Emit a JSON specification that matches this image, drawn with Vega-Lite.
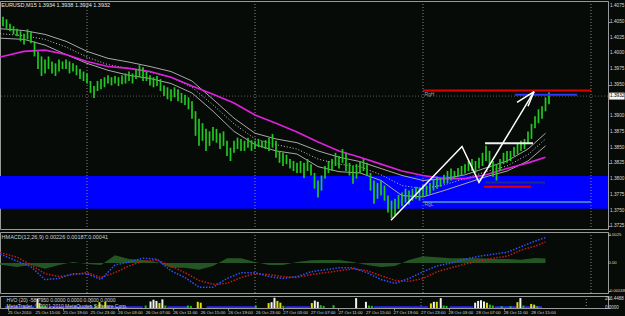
{
  "$schema": "https://vega.github.io/schema/vega-lite/v6.json",
  "background": "#070b07",
  "padding": {"left": -4, "top": 0, "right": 0, "bottom": 0},
  "spacing": 1,
  "resolve": {"scale": {"color": "independent"}},
  "config": {
    "view": {"stroke": "#9a9a9a", "strokeWidth": 1},
    "axis": {"labels": false, "domainColor": "#9a9a9a", "tickColor": "#9a9a9a", "tickSize": 2, "grid": false, "title": null},
    "text": {"font": "Liberation Sans"}
  },
  "datasets": {
    "candles": [
      {"t":0,"h":1.4058,"l":1.4043},{"t":0.5,"h":1.4054,"l":1.4039},{"t":1,"h":1.4047,"l":1.4035},{"t":1.5,"h":1.4043,"l":1.4030},{"t":2,"h":1.4039,"l":1.4027},{"t":2.5,"h":1.4035,"l":1.4019},{"t":3,"h":1.4031,"l":1.4014},{"t":3.5,"h":1.4038,"l":1.4022},{"t":4,"h":1.4035,"l":1.4016},{"t":4.5,"h":1.4019,"l":1.3995},
      {"t":5,"h":1.4003,"l":1.3975},{"t":5.5,"h":1.3995,"l":1.3964},{"t":6,"h":1.3990,"l":1.3968},{"t":6.5,"h":1.3995,"l":1.3975},{"t":7,"h":1.3987,"l":1.3968},{"t":7.5,"h":1.3984,"l":1.3964},{"t":8,"h":1.3990,"l":1.3971},{"t":8.5,"h":1.3987,"l":1.3975},{"t":9,"h":1.3990,"l":1.3975},{"t":9.5,"h":1.3987,"l":1.3968},
      {"t":10,"h":1.3984,"l":1.3971},{"t":10.5,"h":1.3981,"l":1.3965},{"t":11,"h":1.3975,"l":1.3959},{"t":11.5,"h":1.3971,"l":1.3956},{"t":12,"h":1.3968,"l":1.3952},{"t":12.5,"h":1.3956,"l":1.3937},{"t":13,"h":1.3948,"l":1.3929},{"t":13.5,"h":1.3956,"l":1.3940},{"t":14,"h":1.3959,"l":1.3943},{"t":14.5,"h":1.3962,"l":1.3946},
      {"t":15,"h":1.3965,"l":1.3952},{"t":15.5,"h":1.3962,"l":1.3949},{"t":16,"h":1.3964,"l":1.3952},{"t":16.5,"h":1.3962,"l":1.3948},{"t":17,"h":1.3965,"l":1.3951},{"t":17.5,"h":1.3968,"l":1.3952},{"t":18,"h":1.3971,"l":1.3956},{"t":18.5,"h":1.3968,"l":1.3952},{"t":19,"h":1.3975,"l":1.3959},{"t":19.5,"h":1.3981,"l":1.3962},
      {"t":20,"h":1.3978,"l":1.3956},{"t":20.5,"h":1.3971,"l":1.3956},{"t":21,"h":1.3965,"l":1.3949},{"t":21.5,"h":1.3962,"l":1.3946},{"t":22,"h":1.3964,"l":1.3948},{"t":22.5,"h":1.3959,"l":1.3940},{"t":23,"h":1.3949,"l":1.3932},{"t":23.5,"h":1.3946,"l":1.3927},{"t":24,"h":1.3943,"l":1.3924},{"t":24.5,"h":1.3946,"l":1.3930},
      {"t":25,"h":1.3943,"l":1.3924},{"t":25.5,"h":1.3937,"l":1.3921},{"t":26,"h":1.3934,"l":1.3918},{"t":26.5,"h":1.3930,"l":1.3911},{"t":27,"h":1.3924,"l":1.3896},{"t":27.5,"h":1.3908,"l":1.3869},{"t":28,"h":1.3896,"l":1.3853},{"t":28.5,"h":1.3889,"l":1.3861},{"t":29,"h":1.3880,"l":1.3845},{"t":29.5,"h":1.3876,"l":1.3853},
      {"t":30,"h":1.3883,"l":1.3861},{"t":30.5,"h":1.3880,"l":1.3858},{"t":31,"h":1.3873,"l":1.3848},{"t":31.5,"h":1.3876,"l":1.3853},{"t":32,"h":1.3861,"l":1.3837},{"t":32.5,"h":1.3850,"l":1.3829},{"t":33,"h":1.3861,"l":1.3842},{"t":33.5,"h":1.3866,"l":1.3848},{"t":34,"h":1.3864,"l":1.3845},{"t":34.5,"h":1.3861,"l":1.3845},
      {"t":35,"h":1.3866,"l":1.3850},{"t":35.5,"h":1.3862,"l":1.3845},{"t":36,"h":1.3861,"l":1.3848},{"t":36.5,"h":1.3864,"l":1.3851},{"t":37,"h":1.3861,"l":1.3850},{"t":37.5,"h":1.3862,"l":1.3848},{"t":38,"h":1.3866,"l":1.3845},{"t":38.5,"h":1.3872,"l":1.3850},{"t":39,"h":1.3861,"l":1.3834},{"t":39.5,"h":1.3845,"l":1.3826},
      {"t":40,"h":1.3842,"l":1.3821},{"t":40.5,"h":1.3839,"l":1.3824},{"t":41,"h":1.3832,"l":1.3817},{"t":41.5,"h":1.3829,"l":1.3813},{"t":42,"h":1.3826,"l":1.3810},{"t":42.5,"h":1.3829,"l":1.3810},{"t":43,"h":1.3826,"l":1.3802},{"t":43.5,"h":1.3832,"l":1.3813},{"t":44,"h":1.3824,"l":1.3806},{"t":44.5,"h":1.3810,"l":1.3785},
      {"t":45,"h":1.3798,"l":1.3771},{"t":45.5,"h":1.3806,"l":1.3782},{"t":46,"h":1.3821,"l":1.3801},{"t":46.5,"h":1.3829,"l":1.3810},{"t":47,"h":1.3832,"l":1.3813},{"t":47.5,"h":1.3842,"l":1.3821},{"t":48,"h":1.3837,"l":1.3817},{"t":48.5,"h":1.3848,"l":1.3826},{"t":49,"h":1.3842,"l":1.3813},{"t":49.5,"h":1.3826,"l":1.3806},
      {"t":50,"h":1.3821,"l":1.3793},{"t":50.5,"h":1.3824,"l":1.3801},{"t":51,"h":1.3829,"l":1.3810},{"t":51.5,"h":1.3832,"l":1.3813},{"t":52,"h":1.3826,"l":1.3806},{"t":52.5,"h":1.3810,"l":1.3782},{"t":53,"h":1.3798,"l":1.3761},{"t":53.5,"h":1.3794,"l":1.3769},{"t":54,"h":1.3798,"l":1.3774},{"t":54.5,"h":1.3790,"l":1.3766},
      {"t":55,"h":1.3774,"l":1.3747},{"t":55.5,"h":1.3766,"l":1.3738},{"t":56,"h":1.3769,"l":1.3742},{"t":56.5,"h":1.3775,"l":1.3753},{"t":57,"h":1.3779,"l":1.3757},{"t":57.5,"h":1.3785,"l":1.3763},{"t":58,"h":1.3782,"l":1.3760},{"t":58.5,"h":1.3785,"l":1.3766},{"t":59,"h":1.3788,"l":1.3769},{"t":59.5,"h":1.3787,"l":1.3766},
      {"t":60,"h":1.3791,"l":1.3772},{"t":60.5,"h":1.3790,"l":1.3774},{"t":61,"h":1.3794,"l":1.3777},{"t":61.5,"h":1.3801,"l":1.3782},{"t":62,"h":1.3804,"l":1.3785},{"t":62.5,"h":1.3802,"l":1.3788},{"t":63,"h":1.3807,"l":1.3793},{"t":63.5,"h":1.3813,"l":1.3794},{"t":64,"h":1.3817,"l":1.3798},{"t":64.5,"h":1.3813,"l":1.3801},
      {"t":65,"h":1.3818,"l":1.3804},{"t":65.5,"h":1.3821,"l":1.3806},{"t":66,"h":1.3824,"l":1.3809},{"t":66.5,"h":1.3829,"l":1.3813},{"t":67,"h":1.3832,"l":1.3813},{"t":67.5,"h":1.3829,"l":1.3810},{"t":68,"h":1.3834,"l":1.3817},{"t":68.5,"h":1.3842,"l":1.3821},{"t":69,"h":1.3853,"l":1.3829},{"t":69.5,"h":1.3845,"l":1.3818},
      {"t":70,"h":1.3829,"l":1.3804},{"t":70.5,"h":1.3824,"l":1.3798},{"t":71,"h":1.3832,"l":1.3813},{"t":71.5,"h":1.3842,"l":1.3824},{"t":72,"h":1.3845,"l":1.3826},{"t":72.5,"h":1.3845,"l":1.3829},{"t":73,"h":1.3851,"l":1.3837},{"t":73.5,"h":1.3858,"l":1.3840},{"t":74,"h":1.3861,"l":1.3845},{"t":74.5,"h":1.3864,"l":1.3848},
      {"t":75,"h":1.3876,"l":1.3856},{"t":75.5,"h":1.3888,"l":1.3864},{"t":76,"h":1.3900,"l":1.3881},{"t":76.5,"h":1.3911,"l":1.3889},{"t":77,"h":1.3916,"l":1.3896},{"t":77.5,"h":1.3930,"l":1.3908},{"t":78,"h":1.3938,"l":1.3919}
    ],
    "ma": [
      {"t":-0.4,"mg":1.3994,"u":1.4039,"m":1.4031,"l":1.4024},
      {"t":3,"mg":1.4003,"u":1.4036,"m":1.4028,"l":1.4022},
      {"t":6,"mg":1.4005,"u":1.4030,"m":1.4022,"l":1.4013},
      {"t":9,"mg":1.3998,"u":1.4019,"m":1.4010,"l":1.3998},
      {"t":12,"mg":1.3987,"u":1.4003,"m":1.3994,"l":1.3984},
      {"t":15,"mg":1.3979,"u":1.3992,"m":1.3982,"l":1.3973},
      {"t":18,"mg":1.3976,"u":1.3986,"m":1.3976,"l":1.3965},
      {"t":21,"mg":1.3971,"u":1.3979,"m":1.3970,"l":1.3960},
      {"t":24,"mg":1.3962,"u":1.3971,"m":1.3962,"l":1.3952},
      {"t":27,"mg":1.3948,"u":1.3956,"m":1.3946,"l":1.3937},
      {"t":30,"mg":1.3935,"u":1.3927,"m":1.3918,"l":1.3908},
      {"t":33,"mg":1.3921,"u":1.3897,"m":1.3888,"l":1.3876},
      {"t":36,"mg":1.3902,"u":1.3873,"m":1.3864,"l":1.3855},
      {"t":39,"mg":1.3889,"u":1.3864,"m":1.3855,"l":1.3845},
      {"t":42,"mg":1.3875,"u":1.3858,"m":1.3848,"l":1.3840},
      {"t":45,"mg":1.3859,"u":1.3845,"m":1.3832,"l":1.3820},
      {"t":48,"mg":1.3845,"u":1.3835,"m":1.3824,"l":1.3812},
      {"t":51,"mg":1.3835,"u":1.3828,"m":1.3820,"l":1.3810},
      {"t":54,"mg":1.3824,"u":1.3817,"m":1.3807,"l":1.3798},
      {"t":57,"mg":1.3813,"u":1.3806,"m":1.3790,"l":1.3774},
      {"t":60,"mg":1.3806,"u":1.3798,"m":1.3785,"l":1.3772},
      {"t":63,"mg":1.3801,"u":1.3801,"m":1.3791,"l":1.3782},
      {"t":66,"mg":1.3801,"u":1.3807,"m":1.3801,"l":1.3793},
      {"t":69,"mg":1.3807,"u":1.3818,"m":1.3812,"l":1.3804},
      {"t":72,"mg":1.3817,"u":1.3829,"m":1.3821,"l":1.3813},
      {"t":75,"mg":1.3826,"u":1.3848,"m":1.3839,"l":1.3829},
      {"t":77.5,"mg":1.3835,"u":1.3873,"m":1.3864,"l":1.3853}
    ],
    "macd": [
      {"t":-0.4,"macd":0.00078,"sig":0.00095,"hist":-0.00017},
      {"t":0,"macd":0.00069,"sig":0.00086,"hist":-0.00017},
      {"t":2,"macd":0.00017,"sig":0.00052,"hist":-0.00035},
      {"t":4,"macd":-0.00034,"sig":-0.00017,"hist":-0.00017},
      {"t":6,"macd":-0.00147,"sig":-0.00095,"hist":-0.00052},
      {"t":8,"macd":-0.00138,"sig":-0.00121,"hist":-0.00017},
      {"t":10,"macd":-0.00095,"sig":-0.00103,"hist":0.00008},
      {"t":12,"macd":-0.00095,"sig":-0.00086,"hist":-0.00009},
      {"t":14,"macd":-0.00147,"sig":-0.00129,"hist":-0.00018},
      {"t":16,"macd":-0.00017,"sig":-0.00086,"hist":0.00069},
      {"t":18,"macd":0.00009,"sig":-0.00026,"hist":0.00035},
      {"t":20,"macd":0.00043,"sig":0.00017,"hist":0.00026},
      {"t":22,"macd":0.00034,"sig":0.00026,"hist":0.00008},
      {"t":24,"macd":-0.00069,"sig":-0.00026,"hist":-0.00043},
      {"t":26,"macd":-0.00129,"sig":-0.00086,"hist":-0.00043},
      {"t":28,"macd":-0.00216,"sig":-0.00155,"hist":-0.00061},
      {"t":30,"macd":-0.00216,"sig":-0.0019,"hist":-0.00026},
      {"t":32,"macd":-0.00138,"sig":-0.00181,"hist":0.00043},
      {"t":34,"macd":-0.00086,"sig":-0.00129,"hist":0.00043},
      {"t":36,"macd":-0.00086,"sig":-0.00095,"hist":0.00009},
      {"t":38,"macd":-0.00121,"sig":-0.00103,"hist":-0.00018},
      {"t":40,"macd":-0.00138,"sig":-0.00121,"hist":-0.00017},
      {"t":42,"macd":-0.00121,"sig":-0.00129,"hist":0.00008},
      {"t":44,"macd":-0.00078,"sig":-0.00103,"hist":0.00025},
      {"t":46,"macd":-0.0006,"sig":-0.00086,"hist":0.00026},
      {"t":48,"macd":-0.00043,"sig":-0.00069,"hist":0.00026},
      {"t":50,"macd":-0.00043,"sig":-0.00052,"hist":0.00009},
      {"t":52,"macd":-0.00086,"sig":-0.00069,"hist":-0.00017},
      {"t":54,"macd":-0.00147,"sig":-0.00112,"hist":-0.00035},
      {"t":56,"macd":-0.00181,"sig":-0.00155,"hist":-0.00026},
      {"t":58,"macd":-0.00138,"sig":-0.00164,"hist":0.00026},
      {"t":60,"macd":-0.00078,"sig":-0.00138,"hist":0.0006},
      {"t":62,"macd":-0.00026,"sig":-0.00078,"hist":0.00052},
      {"t":64,"macd":0,"sig":-0.00043,"hist":0.00043},
      {"t":66,"macd":0.00034,"sig":-0.00009,"hist":0.00043},
      {"t":68,"macd":0.0006,"sig":0.00017,"hist":0.00043},
      {"t":70,"macd":0.00078,"sig":0.00043,"hist":0.00035},
      {"t":72,"macd":0.00095,"sig":0.0006,"hist":0.00035},
      {"t":74,"macd":0.00145,"sig":0.00115,"hist":0.0003},
      {"t":76,"macd":0.00195,"sig":0.0015,"hist":0.00045},
      {"t":77.5,"macd":0.00226,"sig":0.00187,"hist":0.00039}
    ],
    "vol": [
      {"t":0,"v":60,"kind":"norm"},
      {"t":4.29,"v":270,"kind":"climax"},{"t":4.57,"v":140,"kind":"hi"},{"t":5,"v":70,"kind":"norm"},{"t":5.43,"v":60,"kind":"norm"},
      {"t":12.71,"v":70,"kind":"norm"},{"t":13.29,"v":165,"kind":"hi"},{"t":13.71,"v":70,"kind":"norm"},{"t":14.14,"v":175,"kind":"hi"},
      {"t":20,"v":70,"kind":"norm"},{"t":20.71,"v":185,"kind":"climax"},{"t":21.14,"v":235,"kind":"climax"},{"t":21.57,"v":200,"kind":"climax"},{"t":22,"v":140,"kind":"hi"},{"t":22.43,"v":245,"kind":"climax"},{"t":22.86,"v":70,"kind":"norm"},
      {"t":26.14,"v":70,"kind":"norm"},{"t":26.57,"v":60,"kind":"norm"},{"t":27.57,"v":175,"kind":"hi"},{"t":28,"v":150,"kind":"hi"},
      {"t":36,"v":60,"kind":"norm"},
      {"t":37.86,"v":140,"kind":"hi"},{"t":38.29,"v":165,"kind":"climax"},{"t":38.71,"v":290,"kind":"climax"},{"t":39.14,"v":200,"kind":"hi"},{"t":39.57,"v":150,"kind":"hi"},{"t":40,"v":60,"kind":"norm"},
      {"t":44.14,"v":140,"kind":"hi"},{"t":44.57,"v":210,"kind":"climax"},{"t":45,"v":175,"kind":"climax"},{"t":45.43,"v":80,"kind":"norm"},{"t":45.86,"v":60,"kind":"norm"},{"t":47.29,"v":80,"kind":"norm"},
      {"t":50.57,"v":280,"kind":"climax"},{"t":52,"v":175,"kind":"climax"},{"t":52.43,"v":70,"kind":"norm"},{"t":52.86,"v":60,"kind":"norm"},
      {"t":61.43,"v":130,"kind":"hi"},{"t":61.86,"v":175,"kind":"climax"},{"t":62.29,"v":175,"kind":"hi"},{"t":62.86,"v":280,"kind":"climax"},{"t":63.29,"v":70,"kind":"norm"},{"t":63.71,"v":60,"kind":"norm"},
      {"t":67.86,"v":150,"kind":"climax"},{"t":68.29,"v":200,"kind":"climax"},{"t":68.71,"v":220,"kind":"climax"},{"t":69.14,"v":185,"kind":"climax"},{"t":69.57,"v":150,"kind":"hi"},{"t":70,"v":95,"kind":"norm"},{"t":70.43,"v":70,"kind":"norm"},
      {"t":71.71,"v":50,"kind":"norm"},{"t":73,"v":50,"kind":"norm"},
      {"t":74,"v":165,"kind":"hi"},{"t":74.43,"v":280,"kind":"climax"},{"t":74.86,"v":70,"kind":"norm"},{"t":76,"v":115,"kind":"hi"},{"t":76.43,"v":95,"kind":"hi"},{"t":76.86,"v":50,"kind":"norm"}
    ],
    "lowvol": [
      {"t":-0.43,"t2":3.86,"v":50},{"t":6,"t2":12.43,"v":50},{"t":14.29,"t2":19.57,"v":50},{"t":23.14,"t2":26,"v":50},{"t":28.86,"t2":36,"v":50},
      {"t":40.29,"t2":43.86,"v":50},{"t":53.14,"t2":61,"v":50},{"t":64.14,"t2":67.57,"v":50},{"t":70.71,"t2":73.86,"v":50},{"t":75,"t2":77.57,"v":50}
    ],
    "seps": [{"t":12},{"t":36},{"t":60},{"t":84}],
    "priceLabels": [
      {"p":1.4075},{"p":1.405},{"p":1.4025},{"p":1.4},{"p":1.3975},{"p":1.395},{"p":1.39},{"p":1.3875},{"p":1.385},{"p":1.3825},{"p":1.38},{"p":1.3775},{"p":1.375},{"p":1.3725}
    ],
    "timeLabels": [
      {"t":0,"s":"25 Oct 2010"},{"t":4,"s":"25 Oct 15:00"},{"t":8,"s":"25 Oct 19:00"},{"t":12,"s":"25 Oct 23:00"},{"t":16,"s":"26 Oct 03:00"},
      {"t":20,"s":"26 Oct 07:00"},{"t":24,"s":"26 Oct 11:00"},{"t":28,"s":"26 Oct 15:00"},{"t":32,"s":"26 Oct 19:00"},{"t":36,"s":"26 Oct 23:00"},
      {"t":40,"s":"27 Oct 03:00"},{"t":44,"s":"27 Oct 07:00"},{"t":48,"s":"27 Oct 11:00"},{"t":52,"s":"27 Oct 15:00"},{"t":56,"s":"27 Oct 19:00"},
      {"t":60,"s":"27 Oct 23:00"},{"t":64,"s":"28 Oct 03:00"},{"t":68,"s":"28 Oct 07:00"},{"t":72,"s":"28 Oct 11:00"},{"t":76,"s":"28 Oct 15:00"}
    ]
  },
  "vconcat": [
    {
      "width": 608,
      "height": 228,
      "resolve": {"scale": {"color": "independent"}},
      "layer": [
        {
          "data": {"values": [{"hi": 1.3805, "lo": 1.3753}]},
          "mark": {"type": "rect", "color": "#0000ff"},
          "encoding": {
            "y": {"field": "hi", "type": "quantitative", "scale": {"domain": [1.3721, 1.4083]}},
            "y2": {"field": "lo"}
          }
        },
        {
          "data": {"name": "seps"},
          "mark": {"type": "rule", "color": "#8a8a8a", "strokeDash": [1, 2], "strokeWidth": 1},
          "encoding": {"x": {"field": "t", "type": "quantitative", "scale": {"domain": [-0.4286, 86.4286]}, "axis": null}}
        },
        {
          "data": {"values": [{"p": 1.3932}]},
          "mark": {"type": "rule", "color": "#5a5a5a", "strokeDash": [1, 2], "strokeWidth": 1},
          "encoding": {"y": {"field": "p", "type": "quantitative", "scale": {"domain": [1.3721, 1.4083]}}}
        },
        {
          "data": {"name": "ma"},
          "mark": {"type": "line", "color": "#a8a8a8", "strokeWidth": 1},
          "encoding": {
            "x": {"field": "t", "type": "quantitative", "scale": {"domain": [-0.4286, 86.4286]}, "axis": null},
            "y": {"field": "u", "type": "quantitative", "scale": {"domain": [1.3721, 1.4083]}}
          }
        },
        {
          "data": {"name": "ma"},
          "mark": {"type": "line", "color": "#c8c8c8", "strokeWidth": 1, "strokeDash": [1, 2]},
          "encoding": {
            "x": {"field": "t", "type": "quantitative", "scale": {"domain": [-0.4286, 86.4286]}, "axis": null},
            "y": {"field": "m", "type": "quantitative", "scale": {"domain": [1.3721, 1.4083]}}
          }
        },
        {
          "data": {"name": "ma"},
          "mark": {"type": "line", "color": "#a8a8a8", "strokeWidth": 1},
          "encoding": {
            "x": {"field": "t", "type": "quantitative", "scale": {"domain": [-0.4286, 86.4286]}, "axis": null},
            "y": {"field": "l", "type": "quantitative", "scale": {"domain": [1.3721, 1.4083]}}
          }
        },
        {
          "data": {"name": "ma"},
          "mark": {"type": "line", "color": "#e020e0", "strokeWidth": 1.6},
          "encoding": {
            "x": {"field": "t", "type": "quantitative", "scale": {"domain": [-0.4286, 86.4286]}, "axis": null},
            "y": {"field": "mg", "type": "quantitative", "scale": {"domain": [1.3721, 1.4083]}}
          }
        },
        {
          "data": {"name": "candles"},
          "mark": {"type": "rule", "color": "#22c822", "strokeWidth": 1.7},
          "encoding": {
            "x": {"field": "t", "type": "quantitative", "scale": {"domain": [-0.4286, 86.4286]}, "axis": null},
            "y": {"field": "h", "type": "quantitative", "scale": {"domain": [1.3721, 1.4083]},
              "axis": {"orient": "right", "values": [1.4075, 1.405, 1.4025, 1.4, 1.3975, 1.395, 1.39, 1.3875, 1.385, 1.3825, 1.38, 1.3775, 1.375, 1.3725], "labels": false, "title": null}},
            "y2": {"field": "l"}
          }
        },
        {
          "data": {"values": [
            {"t": 60, "t2": 84, "p": 1.3941, "line": "rangeHigh"},
            {"t": 73.14, "t2": 82, "p": 1.3934, "line": "target"},
            {"t": 68.86, "t2": 75.71, "p": 1.3857, "line": "resistance"},
            {"t": 68.86, "t2": 77.43, "p": 1.3795, "line": "pivot"},
            {"t": 68.71, "t2": 75.43, "p": 1.3788, "line": "support"},
            {"t": 60, "t2": 84, "p": 1.3764, "line": "rangeLow"}
          ]},
          "mark": {"type": "rule", "strokeWidth": 2},
          "encoding": {
            "x": {"field": "t", "type": "quantitative", "scale": {"domain": [-0.4286, 86.4286]}, "axis": null},
            "x2": {"field": "t2"},
            "y": {"field": "p", "type": "quantitative", "scale": {"domain": [1.3721, 1.4083]}},
            "color": {"field": "line", "type": "nominal", "legend": null,
              "scale": {"domain": ["rangeHigh", "target", "resistance", "pivot", "support", "rangeLow"], "range": ["#e00000", "#2838ff", "#f0f0f0", "#1a2a90", "#e00000", "#3a78d8"]}}
          }
        },
        {
          "data": {"values": [
            {"o": 1, "t": 55.43, "p": 1.3735},
            {"o": 2, "t": 65.57, "p": 1.3852},
            {"o": 3, "t": 68, "p": 1.3795},
            {"o": 4, "t": 75.86, "p": 1.3939}
          ]},
          "mark": {"type": "line", "color": "#ffffff", "strokeWidth": 1.5},
          "encoding": {
            "x": {"field": "t", "type": "quantitative", "scale": {"domain": [-0.4286, 86.4286]}, "axis": null},
            "y": {"field": "p", "type": "quantitative", "scale": {"domain": [1.3721, 1.4083]}},
            "order": {"field": "o"}
          }
        },
        {
          "data": {"values": [
            {"t": 75.86, "p": 1.3939, "t2": 73.43, "p2": 1.3922},
            {"t": 75.86, "p": 1.3939, "t2": 75.0, "p2": 1.3916}
          ]},
          "mark": {"type": "rule", "color": "#ffffff", "strokeWidth": 1.5},
          "encoding": {
            "x": {"field": "t", "type": "quantitative", "scale": {"domain": [-0.4286, 86.4286]}, "axis": null},
            "x2": {"field": "t2"},
            "y": {"field": "p", "type": "quantitative", "scale": {"domain": [1.3721, 1.4083]}},
            "y2": {"field": "p2"}
          }
        },
        {
          "data": {"values": [{"t": -0.25, "p": 1.4076, "s": "EURUSD,M15  1.3934 1.3938 1.3924 1.3932"}]},
          "mark": {"type": "text", "align": "left", "baseline": "middle", "fontSize": 5.5, "color": "#e8e8e8"},
          "encoding": {
            "x": {"field": "t", "type": "quantitative", "scale": {"domain": [-0.4286, 86.4286]}, "axis": null},
            "y": {"field": "p", "type": "quantitative", "scale": {"domain": [1.3721, 1.4083]}},
            "text": {"field": "s"}
          }
        },
        {
          "data": {"values": [
            {"t": 60.2, "p": 1.3936, "s": "RgH"},
            {"t": 60.2, "p": 1.3760, "s": "RgL"}
          ]},
          "mark": {"type": "text", "align": "left", "baseline": "middle", "fontSize": 5, "color": "#9a9a9a"},
          "encoding": {
            "x": {"field": "t", "type": "quantitative", "scale": {"domain": [-0.4286, 86.4286]}, "axis": null},
            "y": {"field": "p", "type": "quantitative", "scale": {"domain": [1.3721, 1.4083]}},
            "text": {"field": "s"}
          }
        },
        {
          "data": {"name": "priceLabels"},
          "mark": {"type": "text", "align": "left", "baseline": "middle", "fontSize": 4.7, "color": "#d8d8d8"},
          "encoding": {
            "x": {"datum": 86.72, "type": "quantitative", "scale": {"domain": [-0.4286, 86.4286]}, "axis": null},
            "y": {"field": "p", "type": "quantitative", "scale": {"domain": [1.3721, 1.4083]}},
            "text": {"field": "p", "type": "quantitative", "format": ".4f"}
          }
        },
        {
          "data": {"values": [{"t": 86.6, "t2": 88.8, "hi": 1.39375, "lo": 1.39265}]},
          "mark": {"type": "rect", "color": "#f4f4f4"},
          "encoding": {
            "x": {"field": "t", "type": "quantitative", "scale": {"domain": [-0.4286, 86.4286]}, "axis": null},
            "x2": {"field": "t2"},
            "y": {"field": "hi", "type": "quantitative", "scale": {"domain": [1.3721, 1.4083]}},
            "y2": {"field": "lo"}
          }
        },
        {
          "data": {"values": [{"t": 86.72, "p": 1.3932, "s": "1.3932"}]},
          "mark": {"type": "text", "align": "left", "baseline": "middle", "fontSize": 4.7, "color": "#000000"},
          "encoding": {
            "x": {"field": "t", "type": "quantitative", "scale": {"domain": [-0.4286, 86.4286]}, "axis": null},
            "y": {"field": "p", "type": "quantitative", "scale": {"domain": [1.3721, 1.4083]}},
            "text": {"field": "s"}
          }
        }
      ]
    },
    {
      "width": 608,
      "height": 61,
      "layer": [
        {
          "data": {"name": "seps"},
          "mark": {"type": "rule", "color": "#8a8a8a", "strokeDash": [1, 2], "strokeWidth": 1},
          "encoding": {"x": {"field": "t", "type": "quantitative", "scale": {"domain": [-0.4286, 86.4286]}, "axis": null}}
        },
        {
          "data": {"name": "macd"},
          "mark": {"type": "area", "color": "#285e28", "opacity": 0.9},
          "encoding": {
            "x": {"field": "t", "type": "quantitative", "scale": {"domain": [-0.4286, 86.4286]}, "axis": null},
            "y": {"field": "hist", "type": "quantitative", "scale": {"domain": [-0.00267, 0.00276]},
              "axis": {"orient": "right", "values": [0.0025, 0, -0.00248], "labels": false, "title": null}}
          }
        },
        {
          "data": {"name": "macd"},
          "mark": {"type": "line", "color": "#c81818", "strokeWidth": 1.5, "strokeDash": [1.5, 1.5]},
          "encoding": {
            "x": {"field": "t", "type": "quantitative", "scale": {"domain": [-0.4286, 86.4286]}, "axis": null},
            "y": {"field": "sig", "type": "quantitative", "scale": {"domain": [-0.00267, 0.00276]}}
          }
        },
        {
          "data": {"name": "macd"},
          "mark": {"type": "line", "color": "#3050ff", "strokeWidth": 1.5, "strokeDash": [1.5, 1.5]},
          "encoding": {
            "x": {"field": "t", "type": "quantitative", "scale": {"domain": [-0.4286, 86.4286]}, "axis": null},
            "y": {"field": "macd", "type": "quantitative", "scale": {"domain": [-0.00267, 0.00276]}}
          }
        },
        {
          "data": {"values": [{"t": -0.2, "v": 0.0023, "s": "HMACD(12,26,9) 0.00226 0.00187 0.00041"}]},
          "mark": {"type": "text", "align": "left", "baseline": "middle", "fontSize": 5.5, "color": "#d0d0d0"},
          "encoding": {
            "x": {"field": "t", "type": "quantitative", "scale": {"domain": [-0.4286, 86.4286]}, "axis": null},
            "y": {"field": "v", "type": "quantitative", "scale": {"domain": [-0.00267, 0.00276]}},
            "text": {"field": "s"}
          }
        },
        {
          "data": {"values": [{"v": 0.0025, "s": "0.0025"}, {"v": 0, "s": "0.00"}, {"v": -0.00248, "s": "-0.00248"}]},
          "mark": {"type": "text", "align": "left", "baseline": "middle", "fontSize": 4.2, "color": "#d8d8d8"},
          "encoding": {
            "x": {"datum": 86.5, "type": "quantitative", "scale": {"domain": [-0.4286, 86.4286]}, "axis": null},
            "y": {"field": "v", "type": "quantitative", "scale": {"domain": [-0.00267, 0.00276]}},
            "text": {"field": "s"}
          }
        }
      ]
    },
    {
      "width": 608,
      "height": 12,
      "layer": [
        {
          "data": {"name": "seps"},
          "mark": {"type": "rule", "color": "#8a8a8a", "strokeDash": [1, 2], "strokeWidth": 1},
          "encoding": {"x": {"field": "t", "type": "quantitative", "scale": {"domain": [-0.4286, 86.4286]}}}
        },
        {
          "data": {"name": "lowvol"},
          "mark": {"type": "rect", "color": "#2a2aff"},
          "encoding": {
            "x": {"field": "t", "type": "quantitative", "scale": {"domain": [-0.4286, 86.4286]}},
            "x2": {"field": "t2"},
            "y": {"field": "v", "type": "quantitative", "scale": {"domain": [0, 340]}},
            "y2": {"datum": 0}
          }
        },
        {
          "data": {"name": "vol"},
          "mark": {"type": "bar", "width": 2},
          "encoding": {
            "x": {"field": "t", "type": "quantitative", "scale": {"domain": [-0.4286, 86.4286]},
              "axis": {"orient": "bottom", "values": [0, 4, 8, 12, 16, 20, 24, 28, 32, 36, 40, 44, 48, 52, 56, 60, 64, 68, 72, 76], "labels": false, "title": null}},
            "y": {"field": "v", "type": "quantitative", "scale": {"domain": [0, 340]},
              "axis": {"orient": "right", "values": [266.4488, 0], "labels": false, "title": null}},
            "color": {"field": "kind", "type": "nominal", "legend": null,
              "scale": {"domain": ["norm", "hi", "climax"], "range": ["#18c018", "#e0e000", "#f2f2f2"]}}
          }
        },
        {
          "data": {"values": [
            {"t": -0.2, "v": 215, "s": "HVO (20) -58.7950 0.0000 0.0000 0.0000 0.0000"},
            {"t": -0.2, "v": 70, "s": "MetaTrader, © 2001-2010 MetaQuotes Software Corp."}
          ]},
          "mark": {"type": "text", "align": "left", "baseline": "middle", "fontSize": 5, "color": "#d0d0d0"},
          "encoding": {
            "x": {"field": "t", "type": "quantitative", "scale": {"domain": [-0.4286, 86.4286]}},
            "y": {"field": "v", "type": "quantitative", "scale": {"domain": [0, 340]}},
            "text": {"field": "s"}
          }
        },
        {
          "data": {"values": [{"v": 266.4488, "s": "266.4488"}, {"v": 0, "s": "0.0000"}]},
          "mark": {"type": "text", "align": "left", "baseline": "middle", "fontSize": 4.5, "color": "#d8d8d8"},
          "encoding": {
            "x": {"datum": 86.72, "type": "quantitative", "scale": {"domain": [-0.4286, 86.4286]}},
            "y": {"field": "v", "type": "quantitative", "scale": {"domain": [0, 340]}},
            "text": {"field": "s"}
          }
        },
        {
          "data": {"name": "timeLabels"},
          "mark": {"type": "text", "align": "left", "baseline": "middle", "fontSize": 4.3, "color": "#d8d8d8"},
          "encoding": {
            "x": {"field": "t", "type": "quantitative", "scale": {"domain": [-0.4286, 86.4286]}},
            "y": {"datum": -150, "type": "quantitative", "scale": {"domain": [0, 340]}},
            "text": {"field": "s"}
          }
        }
      ]
    }
  ]
}
